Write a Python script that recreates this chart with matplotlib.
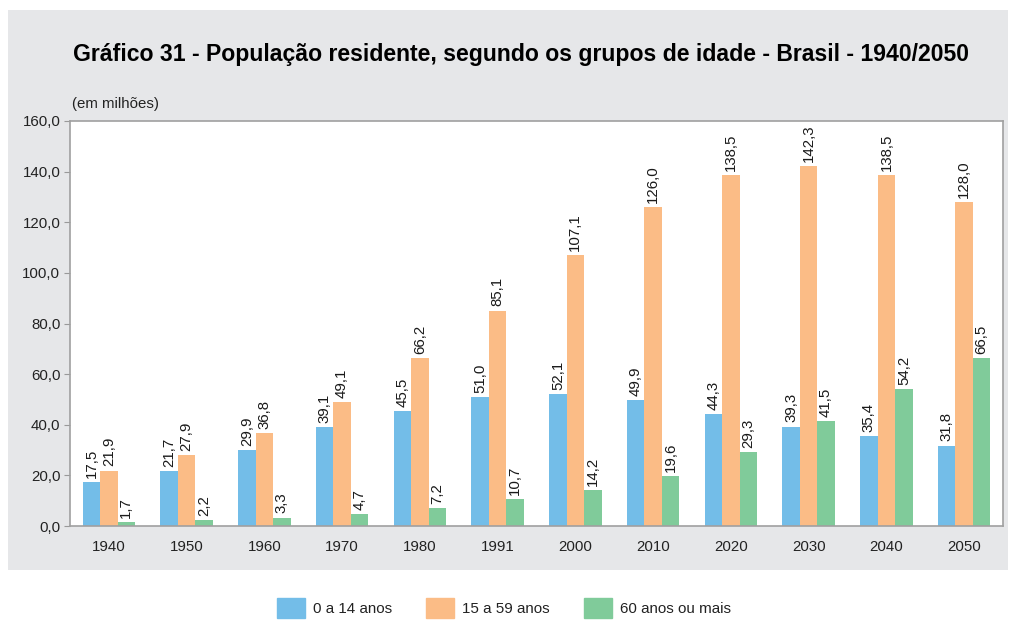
import matplotlib
matplotlib.use("Agg")
import matplotlib.pyplot as plt
import matplotlib.patches as mpatches
import numpy as np

plt.rcParams['font.family'] = ['Liberation Sans', 'DejaVu Sans']

anos = ['1940', '1950', '1960', '1970', '1980', '1991', '2000', '2010', '2020', '2030', '2040', '2050']
grupo_0_14 = [17.5, 21.7, 29.9, 39.1, 45.5, 51.0, 52.1, 49.9, 44.3, 39.3, 35.4, 31.8]
grupo_15_59 = [21.9, 27.9, 36.8, 49.1, 66.2, 85.1, 107.1, 126.0, 138.5, 142.3, 138.5, 128.0]
grupo_60 = [1.7, 2.2, 3.3, 4.7, 7.2, 10.7, 14.2, 19.6, 29.3, 41.5, 54.2, 66.5]
nomes = ['0 a 14 anos', '15 a 59 anos', '60 anos ou mais']
cores = ['#73bde8', '#fbbc86', '#80cb9a']

W, H = 1011, 621
fig = plt.figure(figsize=(W / 100, H / 100), dpi=100)
fig.patch.set_facecolor('white')

# painel cinza (eixo de fundo)
bg = fig.add_axes([8 / W, 1 - 570 / H, 1000 / W, 560 / H], zorder=-1)
bg.set_facecolor('#e6e7e9')
bg.set_xticks([])
bg.set_yticks([])
for s in bg.spines.values():
    s.set_visible(False)

ax = fig.add_axes([70 / W, 1 - 526 / H, 933 / W, 405 / H], zorder=1)
ax.set_facecolor('white')

x = np.arange(len(anos))
larg = 0.225
series = [grupo_0_14, grupo_15_59, grupo_60]
for i, (vals, cor) in enumerate(zip(series, cores)):
    barras = ax.bar(x + (i - 1) * larg, vals, larg, color=cor, label=nomes[i])
    for b, v in zip(barras, vals):
        ax.annotate(f'{v:.1f}'.replace('.', ','),
                    (b.get_x() + b.get_width() / 2, b.get_height()),
                    xytext=(0, 3), textcoords='offset points',
                    ha='center', va='bottom', rotation=90,
                    fontsize=10.8, color='#1a1a1a')

ax.set_xlim(-0.5, len(anos) - 0.5)
ax.set_ylim(0, 160)
ax.set_yticks(np.arange(0, 161, 20))
ax.set_yticklabels([f'{v:.1f}'.replace('.', ',') for v in np.arange(0, 161, 20)])
ax.set_xticks(x)
ax.set_xticklabels(anos)
ax.tick_params(axis='y', length=4, color='#999999', labelsize=10.8, labelcolor='#222222', pad=3)
ax.tick_params(axis='x', length=0, labelsize=10.8, labelcolor='#222222', pad=10)
for s in ax.spines.values():
    s.set_color('#a0a0a0')
    s.set_linewidth(1.2)

fig.text(521 / W, 1 - 54 / H,
         'Gráfico 31 - População residente, segundo os grupos de idade - Brasil - 1940/2050',
         ha='center', va='center', fontsize=16.6, fontweight='bold', color='black')
fig.text(72 / W, 1 - 104 / H, '(em milhões)', ha='left', va='center',
         fontsize=10.8, color='#222222')

handles = [mpatches.Patch(color=c, label=n) for c, n in zip(cores, nomes)]
fig.legend(handles=handles, loc='center', bbox_to_anchor=(504 / W, 1 - 608 / H),
           ncol=3, frameon=False, fontsize=10.9, handlelength=1.85,
           handleheight=1.65, handletextpad=0.5, columnspacing=2.3,
           labelcolor='#222222', borderpad=0)

fig.savefig('out.png', dpi=100, facecolor='white')
